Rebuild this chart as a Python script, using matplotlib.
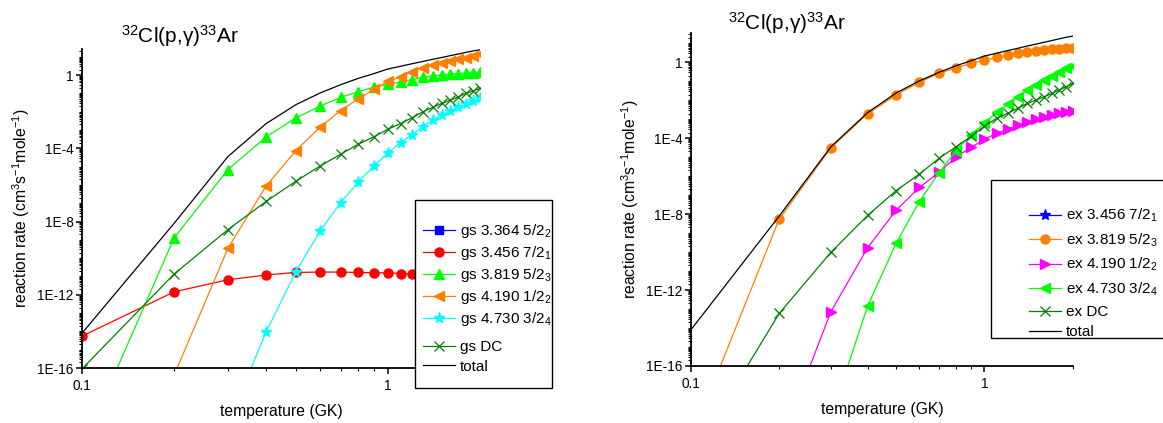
import numpy as np
import matplotlib
matplotlib.use("Agg")
import matplotlib.pyplot as plt
from matplotlib.patches import Rectangle
from matplotlib.ticker import FixedLocator, FuncFormatter, NullFormatter

plt.rcParams['font.family'] = ['Liberation Sans', 'DejaVu Sans']
plt.rcParams['mathtext.default'] = 'regular'

# temperature grid (GK)
temp = [0.1, 0.2, 0.3, 0.4, 0.5, 0.6, 0.7, 0.8, 0.9, 1.0,
        1.1, 1.2, 1.3, 1.4, 1.5, 1.6, 1.7, 1.8, 1.9, 2.0]

# log10 of rates
total_log = [-14.1, -8.1, -4.45, -2.65, -1.62, -0.98, -0.53, -0.18, 0.08, 0.33,
             0.48, 0.62, 0.74, 0.86, 0.96, 1.06, 1.15, 1.24, 1.32, 1.38]

# ground state captures
gs_3456_log = [-14.26, -11.84, -11.18, -10.92, -10.78, -10.76, -10.76, -10.78, -10.80, -10.80,
               -10.84, -10.85, -10.87, -10.88, -10.90, -10.91, -10.92, -10.93, -10.94, -10.95]
gs_3819_log = [-20.4, -8.9, -5.16, -3.38, -2.34, -1.70, -1.22, -0.91, -0.66, -0.51,
               -0.37, -0.25, -0.12, -0.05, 0.0, 0.05, 0.08, 0.11, 0.14, 0.17]
gs_4190_log = [-24.0, -16.4, -9.46, -6.06, -4.13, -2.85, -1.94, -1.30, -0.78, -0.35,
               -0.09, 0.18, 0.40, 0.55, 0.68, 0.77, 0.86, 0.95, 1.04, 1.13]
gs_4730_log = [-26.0, -23.0, -19.0, -14.03, -10.74, -8.53, -6.97, -5.85, -4.97, -4.26,
               -3.69, -3.25, -2.83, -2.47, -2.19, -1.97, -1.77, -1.59, -1.42, -1.24]
gs_dc_log = [-16.05, -10.87, -8.44, -6.9, -5.8, -4.97, -4.33, -3.78, -3.37, -2.96,
             -2.65, -2.33, -2.01, -1.77, -1.55, -1.37, -1.19, -1.0, -0.86, -0.73]

# excited state captures
ex_3819_log = [-19.9, -8.26, -4.5, -2.71, -1.72, -1.05, -0.58, -0.30, -0.05, 0.10,
               0.26, 0.38, 0.48, 0.56, 0.61, 0.65, 0.68, 0.71, 0.74, 0.77]
ex_4190_log = [-26.0, -20.2, -13.14, -9.77, -7.8, -6.59, -5.8, -5.0, -4.48, -4.06,
               -3.74, -3.53, -3.30, -3.13, -3.0, -2.87, -2.78, -2.69, -2.62, -2.55]
ex_4730_log = [-28.0, -24.0, -18.7, -12.84, -9.54, -7.34, -5.82, -4.67, -3.83, -3.21,
               -2.64, -2.21, -1.81, -1.46, -1.2, -0.93, -0.72, -0.5, -0.32, -0.18]
ex_dc_log = [-20.9, -13.23, -10.01, -8.07, -6.76, -5.89, -5.06, -4.45, -3.9, -3.36,
             -2.95, -2.69, -2.42, -2.16, -1.99, -1.81, -1.63, -1.46, -1.28, -1.11]

T = np.array(temp)
def rate(v):
    return np.power(10.0, np.array(v))

title = r'$^{32}$Cl(p,γ)$^{33}$Ar'
ylab = r'reaction rate (cm$^3$s$^{-1}$mole$^{-1}$)'
ms = 6.5

def style_axes(ax, ytop):
    ax.set_xscale('log')
    ax.set_yscale('log')
    ax.set_xlim(0.1, 2.0)
    ax.set_ylim(1e-16, ytop)
    for s in ['top', 'right']:
        ax.spines[s].set_visible(False)
    for s in ['left', 'bottom']:
        ax.spines[s].set_linewidth(1.3)
    ax.xaxis.set_major_locator(FixedLocator([0.1, 1.0]))
    ax.xaxis.set_major_formatter(FuncFormatter(lambda v, p: '%g' % v))
    ax.xaxis.set_minor_locator(FixedLocator([0.2, 0.3, 0.4, 0.5, 0.6, 0.7, 0.8, 0.9, 2.0]))
    ax.xaxis.set_minor_formatter(NullFormatter())
    ax.yaxis.set_major_locator(FixedLocator([1e-16, 1e-12, 1e-8, 1e-4, 1]))
    ax.yaxis.set_major_formatter(FuncFormatter(lambda v, p: '1' if v == 1 else '1E%d' % round(np.log10(v))))
    minor = []
    for d in range(-16, 2):
        for s in range(1, 10):
            v = s * 10.0 ** d
            if v <= ytop and round(np.log10(v), 6) not in (-16, -12, -8, -4, 0):
                minor.append(v)
    ax.yaxis.set_minor_locator(FixedLocator(minor))
    ax.yaxis.set_minor_formatter(NullFormatter())
    ax.tick_params(which='major', direction='out', length=4.5, width=1.1, labelsize=9.8)
    ax.tick_params(axis='y', which='major', pad=1.5)
    ax.tick_params(which='minor', direction='out', length=2.5, width=0.8)
    ax.set_xlabel('temperature (GK)', fontsize=11.3, labelpad=8)
    ax.set_ylabel(ylab, fontsize=11.3, labelpad=4)

def legend_box(x0, y0, x1, y1):
    r = Rectangle((x0 / 1163, 1 - y1 / 423), (x1 - x0) / 1163, (y1 - y0) / 423,
                  transform=fig.transFigure, facecolor='white', edgecolor='black',
                  lw=1.0, zorder=3, clip_on=False)
    fig.add_artist(r)

def legend_rows(handles, labels, x, y, spacing):
    leg = fig.legend(handles, labels, loc='upper left', bbox_to_anchor=(x / 1163, 1 - y / 423),
                     fontsize=11, frameon=False, handlelength=2.1, handletextpad=0.33,
                     labelspacing=spacing, borderpad=0, borderaxespad=0)
    leg.set_zorder(4)
    return leg

fig = plt.figure(figsize=(11.63, 4.23), dpi=100)

# left panel: ground state
ax1 = fig.add_axes([0.0705, 0.13, 0.3422, 0.754])
ax1.plot([], [], color='#0000ff', marker='s', ms=ms - 1, lw=0.9, label=r'gs 3.364 5/2$_2$')
ax1.plot(T, rate(gs_3456_log), color='#ff0000', marker='o', ms=ms, lw=0.9, label=r'gs 3.456 7/2$_1$')
ax1.plot(T, rate(gs_3819_log), color='#00ff00', marker='^', ms=ms + 0.5, lw=0.9, label=r'gs 3.819 5/2$_3$')
ax1.plot(T, rate(gs_4190_log), color='#ff8000', marker='<', ms=ms + 0.5, lw=0.9, label=r'gs 4.190 1/2$_2$')
ax1.plot(T, rate(gs_4730_log), color='#00ffff', marker='*', ms=ms + 1.5, lw=0.9, label=r'gs 4.730 3/2$_4$')
ax1.plot(T, rate(gs_dc_log), color='#008000', marker='x', ms=ms, mew=0.9, lw=0.9, label='gs DC')
ax1.plot(T, rate(total_log), color='black', lw=0.9, label='total')
style_axes(ax1, 10 ** 1.42)
fig.text(0.155, 0.915, title, fontsize=15, ha='center', va='center')

# right panel: excited state
ax2 = fig.add_axes([0.594, 0.1348, 0.3285, 0.787])
ax2.plot([], [], color='#0000ff', marker='*', ms=ms + 1.5, lw=0.9, label=r'ex 3.456 7/2$_1$')
ax2.plot(T, rate(ex_3819_log), color='#ff8000', marker='o', ms=ms, lw=0.9, label=r'ex 3.819 5/2$_3$')
ax2.plot(T, rate(ex_4190_log), color='#ff00ff', marker='>', ms=ms + 0.5, lw=0.9, label=r'ex 4.190 1/2$_2$')
ax2.plot(T, rate(ex_4730_log), color='#00ff00', marker='<', ms=ms + 0.5, lw=0.9, label=r'ex 4.730 3/2$_4$')
ax2.plot(T, rate(ex_dc_log), color='#008000', marker='x', ms=ms, mew=0.9, lw=0.9, label='ex DC')
ax2.plot(T, rate(total_log), color='black', lw=0.9, label='total')
style_axes(ax2, 10 ** 1.54)
fig.text(0.677, 0.945, title, fontsize=15, ha='center', va='center')

# legends: frames drawn as boxes, entries placed inside
legend_box(415, 200, 552, 388)
h1, l1 = ax1.get_legend_handles_labels()
legend_rows(h1[:5], l1[:5], 423, 222, 0.27)
legend_rows(h1[5:], l1[5:], 423, 340, 0.36)

legend_box(991, 180, 1170, 338)
h2, l2 = ax2.get_legend_handles_labels()
legend_rows(h2[:4], l2[:4], 1029, 207, 0.46)
legend_rows(h2[4:], l2[4:], 1029, 305, 0.42)

fig.savefig('out.png', dpi=100)
